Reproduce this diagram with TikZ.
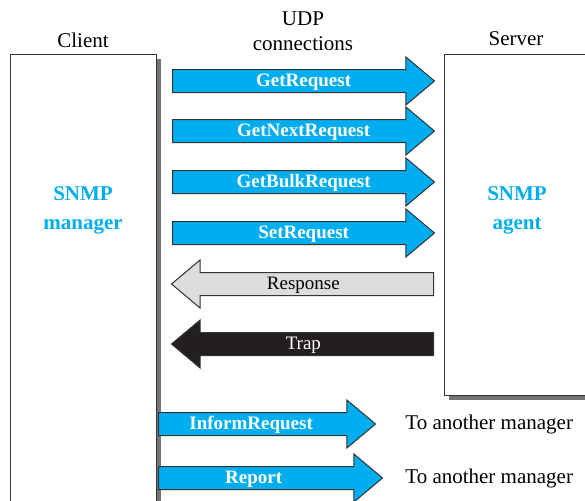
\documentclass[tikz,border=0pt]{standalone}
\usepackage{fontspec}
\setmainfont{Liberation Serif}
\usetikzlibrary{shapes.arrows,shadows}
\definecolor{snmpblue}{RGB}{0,174,239}
\definecolor{respgray}{RGB}{220,221,222}
\definecolor{trapblack}{RGB}{35,31,32}
\tikzset{
  hostbox/.style={rectangle, draw=black!80, line width=0.7pt, fill=white, anchor=north west, inner sep=0pt,
    drop shadow={shadow xshift=2pt, shadow yshift=-2pt, fill=black!55, opacity=1}},
  pdu/.style={single arrow, draw=black!80, line width=0.5pt, anchor=tail, single arrow head extend=6.25pt,
    single arrow tip angle=80, text height=7pt, text depth=2pt, inner ysep=1pt, inner xsep=0pt,
    font=\fontsize{9.5}{11}\selectfont},
  request/.style={pdu, fill=snmpblue, text=white, font=\fontsize{9.5}{11}\selectfont\bfseries},
  reply/.style={pdu, shape border rotate=180},
  pushright/.style={execute at begin node={\hspace{#1}}},
  pushleft/.style={execute at end node={\hspace{#1}}},
  hostname/.style={font=\fontsize{10.5}{12.5}\selectfont, align=center},
  role/.style={font=\fontsize{10.5}{14.5}\selectfont\bfseries, text=snmpblue, align=center},
  note/.style={font=\fontsize{10.5}{12.5}\selectfont, anchor=west, inner sep=0pt}
}

\begin{document}
\begin{tikzpicture}[x=0.5pt, y=-0.5pt]
  \useasboundingbox (0,0) rectangle (585,500);
  \clip (0,0) rectangle (585,500);

  % hosts
  \node[hostbox, minimum width=73pt, minimum height=228pt] (client) at (10,54) {};
  \node[hostbox, minimum width=78pt, minimum height=170.5pt] (server) at (444,54) {};
  \node[hostname] (clientlbl) at (83,40) {Client};
  \node[hostname] (serverlbl) at (516,39) {Server};
  \node[hostname] (udplbl) at (303,31) {UDP\\connections};
  \node[role] (manager) at (83,210) {SNMP\\manager};
  \node[role] (agent) at (517,210) {SNMP\\agent};

  % requests to the agent
  \node[request, pushright=7pt, minimum height=131pt] (getreq) at (172,81) {GetRequest};
  \node[request, pushright=7pt, minimum height=131pt] (getnext) at (172,131) {GetNextRequest};
  \node[request, pushright=7pt, minimum height=131pt] (getbulk) at (172,182) {GetBulkRequest};
  \node[request, pushright=7pt, minimum height=131pt] (setreq) at (172,233) {SetRequest};

  % replies from the agent
  \node[reply, pushleft=6pt, fill=respgray, minimum height=131pt] (response) at (434,284) {Response};
  \node[reply, pushleft=6pt, fill=trapblack, text=white, minimum height=131pt] (trap) at (434,344) {Trap};

  % to another manager
  \node[request, pushleft=9pt, minimum height=108.5pt] (inform) at (158,424) {InformRequest};
  \node[request, pushleft=10pt, minimum height=112pt] (report) at (158,478) {Report};
  \node[note] (informto) at (405,424) {To another manager};
  \node[note] (reportto) at (405,478) {To another manager};
\end{tikzpicture}
\end{document}
